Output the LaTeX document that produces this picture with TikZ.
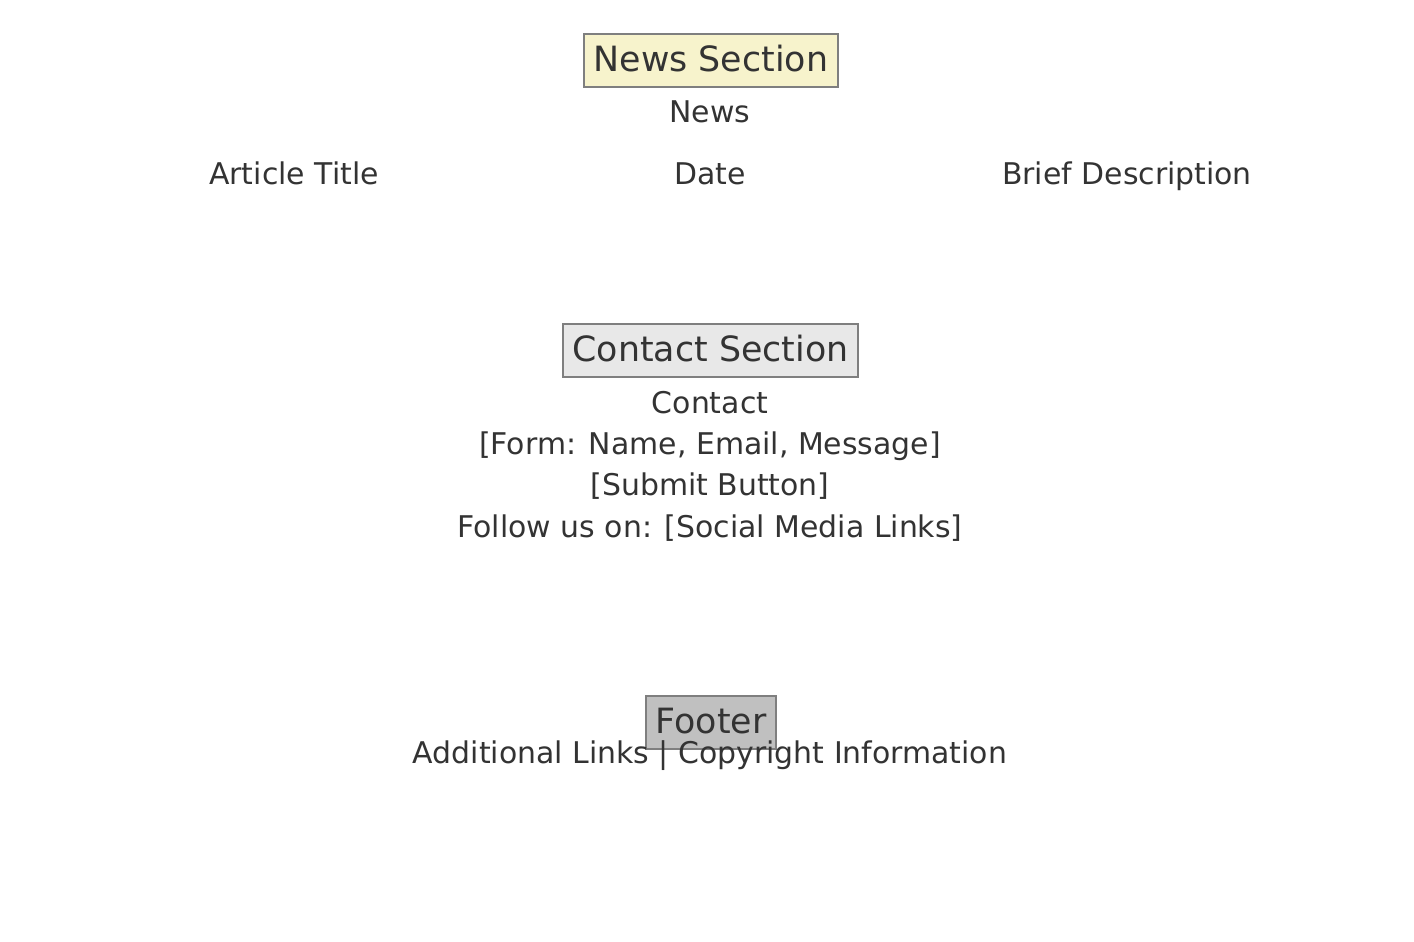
\documentclass[tikz,border=0pt]{standalone}
\usepackage{fontspec}
\setmainfont{DejaVu Sans}
\definecolor{txt}{HTML}{333333}
\definecolor{edge}{HTML}{7F7F7F}
\definecolor{newsfill}{HTML}{F7F3CC}
\definecolor{contactfill}{HTML}{E8E8E8}
\definecolor{footfill}{HTML}{C0C0C0}
\tikzset{
  titlebox/.style={draw=edge, line width=2pt, text=txt, inner xsep=10pt, text height=26pt, text depth=4pt, minimum height=53pt, font=\fontsize{34.8}{40}\selectfont},
  body/.style={text=txt, anchor=base, inner sep=0pt, font=\fontsize{29.9}{35}\selectfont}
}
\begin{document}
\begin{tikzpicture}[x=1pt,y=-1pt]
\useasboundingbox (0,0) rectangle (1414,942);
\node[titlebox, fill=newsfill] (news) at (711,60.5) {News Section};
\node[body] (newslbl) at (710,122) {News};
\node[body] (title) at (294,184) {Article Title};
\node[body] (date) at (710,184) {Date};
\node[body] (desc) at (1127,184) {Brief Description};
\node[titlebox, fill=contactfill] (contact) at (710.5,350) {Contact Section};
\node[body] (c1) at (710,413) {Contact};
\node[body] (c2) at (710,454) {[Form: Name, Email, Message]};
\node[body] (c3) at (710,495) {[Submit Button]};
\node[body] (c4) at (710,537) {Follow us on: [Social Media Links]};
\node[titlebox, fill=footfill] (footer) at (711,722.5) {Footer};
\node[body] (foot) at (710,763) {Additional Links | Copyright Information};
\end{tikzpicture}
\end{document}
